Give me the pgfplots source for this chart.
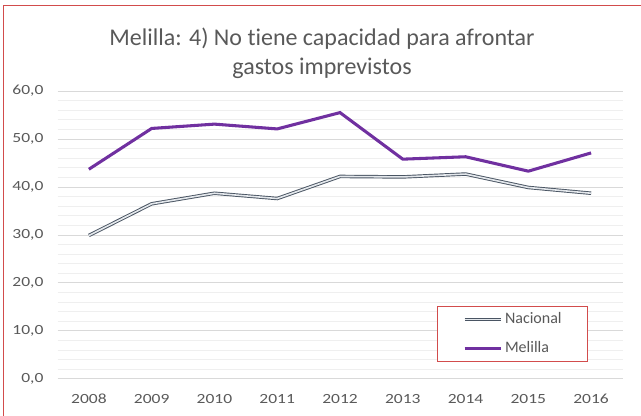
\documentclass[border=0pt]{standalone}
\usepackage{fontspec}
\setmainfont{Carlito}[RawFeature=-liga]
\newfontfamily\tickfont{Carlito}[FakeStretch=1.25]
\usepackage{pgfplots}
\pgfplotsset{compat=1.18}
\definecolor{melilla}{HTML}{7030A0}
\definecolor{nacout}{HTML}{4A5563}
\definecolor{nacin}{HTML}{E4E8EC}
\definecolor{txtgray}{HTML}{595959}
\definecolor{majgrid}{HTML}{D9D9D9}
\definecolor{mingrid}{HTML}{EFEFEF}
\definecolor{frame}{HTML}{D24C4C}
\begin{document}
\begin{tikzpicture}
% full chart area: 641x416 px at 0.75pt per px
\useasboundingbox (-43.125pt,-27.75pt) rectangle (437.625pt,284.25pt);
\draw[frame, line width=1.4pt] (-40.5pt,-27.75pt) -- (-40.5pt,280.1pt) -- (437.625pt,280.1pt);
\begin{axis}[
  at={(0,0)}, anchor=south west,
  scale only axis, width=423.75pt, height=216pt,
  xmin=-0.5, xmax=8.5, ymin=0, ymax=60,
  xtick={0,...,8},
  xticklabels={2008,2009,2010,2011,2012,2013,2014,2015,2016},
  ytick={0,10,...,60},
  minor y tick num=4,
  ymajorgrids, yminorgrids,
  major grid style={majgrid, line width=0.75pt},
  minor grid style={mingrid, line width=0.6pt},
  axis line style={draw=none},
  major tick length=0pt, minor tick length=0pt,
  tick label style={font=\tickfont\fontsize{10.5}{12}\selectfont, text=txtgray},
  /pgf/number format/.cd, use comma, fixed, fixed zerofill, precision=1, assume math mode=true,
  /pgfplots/.cd,
  yticklabel style={xshift=-7pt},
  xticklabel style={yshift=-8pt},
  legend style={at={(0.672,0.059)}, anchor=south west, draw=frame, line width=0.6pt,
    font=\fontsize{12}{14}\selectfont, text=txtgray, inner xsep=19pt, inner ysep=4.5pt,
    row sep=10.5pt,
    nodes={inner sep=0pt, text height=8.5pt, text depth=2.5pt}},
  legend cell align=left,
  legend image code/.code={\draw[#1] (0pt,0pt) -- (27pt,0pt);},
  legend style={column sep=2pt},
]
\addplot[nacout, line width=0.7pt, double=nacin, double distance=1.2pt] coordinates {
  (0,29.9) (1,36.5) (2,38.7) (3,37.6) (4,42.2) (5,42.1) (6,42.7) (7,39.9) (8,38.7)
};
\addplot[melilla, line width=2.3pt] coordinates {
  (0,43.7) (1,52.2) (2,53.1) (3,52.1) (4,55.5) (5,45.8) (6,46.3) (7,43.3) (8,47.1)
};
\legend{Nacional, Melilla}
\end{axis}
\node[align=center, text=txtgray, font=\fontsize{18}{22}\selectfont] at (198.4pt,244.5pt)
  {Melilla: 4) No tiene capacidad para afrontar\\gastos imprevistos};
\end{tikzpicture}
\end{document}
